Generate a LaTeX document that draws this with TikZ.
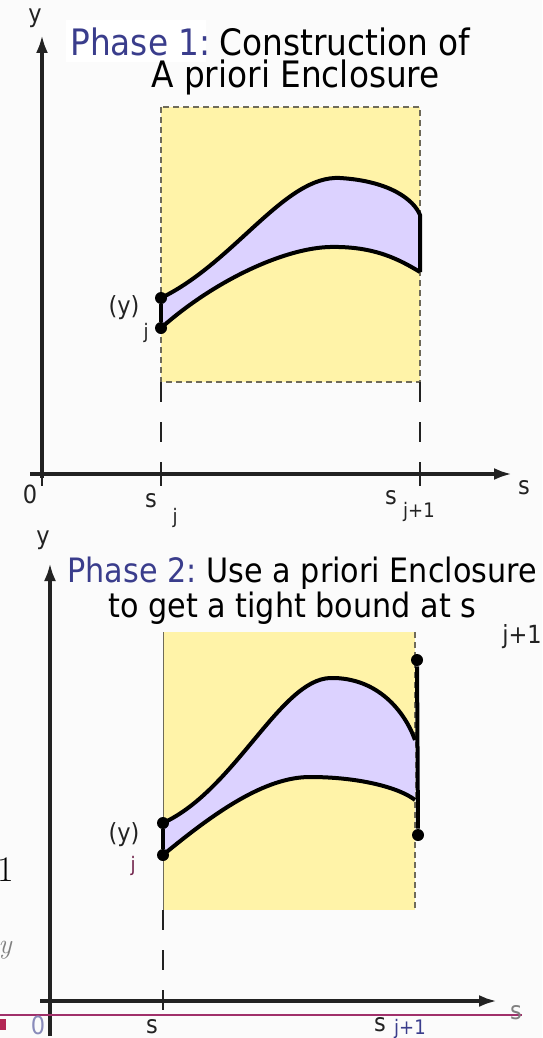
\documentclass[tikz,border=0pt]{standalone}
\usepackage{fontspec}
\usepackage{tikz}
\usetikzlibrary{arrows.meta}
\newfontfamily\tah{DejaVu Sans Condensed}
\definecolor{PhaseBlue}{HTML}{3A3D8C}
\definecolor{BoxYellow}{HTML}{FFF3A8}
\definecolor{BoxEdge}{HTML}{6E6A5A}
\definecolor{BandLilac}{HTML}{DCD2FF}
\definecolor{AxisInk}{HTML}{222222}
\definecolor{PlumLine}{HTML}{A0306A}
\definecolor{PageGrey}{HTML}{FBFBFB}

\begin{document}
\begin{tikzpicture}[x=0.5pt,y=-0.5pt,
  axis/.style={AxisInk,line width=2pt,-{Latex[length=9pt,width=6pt]}},
  curve/.style={black,line width=2pt},
  guide/.style={AxisInk,line width=1pt,dash pattern=on 10pt off 10pt},
  endpt/.style={circle,fill=black,inner sep=0pt,minimum size=6pt},
  lab/.style={font=\tah\fontsize{12.5}{14}\selectfont,text=AxisInk,inner sep=0pt},
  sub/.style={font=\tah\fontsize{10}{11}\selectfont,text=AxisInk,inner sep=0pt},
  title/.style={font=\tah\fontsize{18.2}{16}\selectfont,anchor=base west,
    align=left,inner sep=0pt},
  titletwo/.style={font=\tah\fontsize{16.8}{16}\selectfont,anchor=base west,
    align=left,inner sep=0pt}]
  \useasboundingbox (0,0) rectangle (542,1038);
  \fill[PageGrey] (0,0) rectangle (542,1038);

  % phase 1
  \fill[white] (66,20) rectangle (206,62);
  \node[title] (ph1) at (70,88) {\textcolor{PhaseBlue}{Phase 1:}\hspace{4.5pt}Construction of\\
    \hspace*{40.5pt}A priori Enclosure};
  \fill[BoxYellow] (161,107) rectangle (420,382);
  \draw[BoxEdge,densely dashed,line width=0.6pt] (161,107) rectangle (420,382);
  \fill[BandLilac] (161,298) .. controls (235,262) and (285,175) .. (340,178)
    .. controls (390,181) and (414,200) .. (420,215) -- (420,272)
    .. controls (400,260) and (375,246) .. (330,247)
    .. controls (285,248) and (215,280) .. (161,328) -- cycle;
  \draw[curve] (161,298) .. controls (235,262) and (285,175) .. (340,178)
    .. controls (390,181) and (414,200) .. (420,215) -- (420,272);
  \draw[curve] (161,328) .. controls (215,280) and (285,248) .. (330,247)
    .. controls (375,246) and (400,260) .. (420,272);
  \node[endpt] (a1hi) at (161,298) {};
  \node[endpt] (a1lo) at (161,328) {};
  \draw[curve] (a1hi) -- (a1lo);
  \node[lab] (y1j) at (124,308) {(y)};
  \node[sub] (y1js) at (146,333) {j};
  \coordinate (o1) at (42,478);
  \coordinate (y1) at (42,35);
  \coordinate (s1a) at (30,474);
  \coordinate (s1) at (512,474);
  \draw[axis] (o1) -- (y1);
  \draw[axis] (s1a) -- (s1);
  \foreach \x in {42,161,420} {
    \draw[AxisInk,line width=1.2pt] (\x,462) -- (\x,486);
  }
  \draw[guide] (161,382) -- (161,474);
  \draw[guide] (420,382) -- (420,474);
  \node[lab] (y1lab) at (35,18) {y};
  \node[lab] (s1lab) at (524,488) {s};
  \node[lab] (z1) at (30,494) {0};
  \node[lab] (sj1) at (151,501) {s};
  \node[sub] (sj1s) at (175,518) {j};
  \node[lab] (sk1) at (391,498) {s};
  \node[sub] (sk1s) at (419,512) {j+1};

  % phase 2
  \node[titletwo] (ph2) at (67,617) {\textcolor{PhaseBlue}{Phase 2:}\hspace{5pt}Use a priori Enclosure\\
    \hspace*{20.5pt}to get a tight bound at s};
  \node[lab] (ph2s) at (522,637) {j+1};
  \fill[BoxYellow] (163,632) rectangle (415,910);
  \draw[BoxEdge,line width=0.5pt] (163,632) -- (163,910);
  \draw[BoxEdge,densely dashed,line width=0.6pt] (415,632) -- (415,910);
  \fill[BandLilac] (163,823) .. controls (235,790) and (280,680) .. (330,678)
    .. controls (378,677) and (405,712) .. (415,740) -- (415,800)
    .. controls (400,788) and (360,777) .. (310,777)
    .. controls (265,777) and (215,812) .. (163,855) -- cycle;
  \draw[curve] (163,823) .. controls (235,790) and (280,680) .. (330,678)
    .. controls (378,677) and (405,712) .. (415,740);
  \draw[curve] (163,855) .. controls (215,812) and (265,777) .. (310,777)
    .. controls (360,777) and (400,788) .. (415,800);
  \node[endpt] (a2hi) at (163,823) {};
  \node[endpt] (a2lo) at (163,855) {};
  \draw[curve] (a2hi) -- (a2lo);
  \node[endpt] (b2hi) at (417,660) {};
  \node[endpt] (b2lo) at (418,835) {};
  \draw[curve] (b2hi) -- (b2lo);
  \node[lab] (y2j) at (124,835) {(y)};
  \node[sub,text=PlumLine!70!black] (y2js) at (133,866) {j};
  \coordinate (o2) at (50,1036);
  \coordinate (y2) at (50,563);
  \coordinate (s2a) at (40,1001);
  \coordinate (s2) at (497,1001);
  \draw[axis] (o2) -- (y2);
  \draw[axis] (s2a) -- (s2);
  \draw[guide] (163,910) -- (163,1013);
  \draw[PlumLine,line width=1.2pt] (0,1015) -- (522,1015);
  \fill[PlumLine!80!red] (0,1019) rectangle (6,1030);
  \node[lab] (y2lab) at (43,540) {y};
  \node[lab,text=gray] (s2lab) at (516,1013) {s};
  \node[lab,text=PhaseBlue!60] (z2) at (38,1025) {0};
  \node[lab] (sj2) at (152,1027) {s};
  \node[lab] (sk2) at (380,1025) {s};
  \node[sub,text=PhaseBlue] (sk2s) at (410,1029) {j+1};

  % cut-off bits at the left edge
  \node[font=\fontsize{18}{20}\selectfont,inner sep=0pt] (cut1) at (6,870) {1};
  \node[font=\itshape\fontsize{14}{16}\selectfont,text=gray,inner sep=0pt] (cut2) at (5,950) {y};
\end{tikzpicture}
\end{document}
